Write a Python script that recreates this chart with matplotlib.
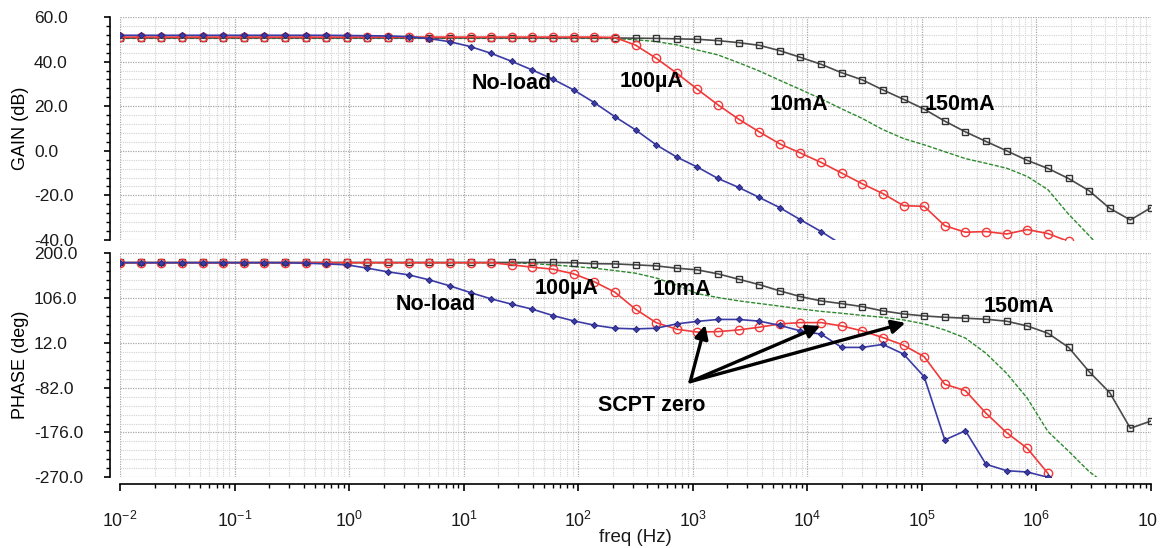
import numpy as np
import matplotlib
matplotlib.use("Agg")
import matplotlib.pyplot as plt
from matplotlib.patches import Rectangle
from matplotlib.ticker import MultipleLocator, FixedLocator, LogLocator, NullFormatter, FormatStrFormatter

plt.rcParams['font.family'] = ['Liberation Sans', 'DejaVu Sans']
plt.rcParams['mathtext.default'] = 'regular'

#===== data =================================#
# log10 of frequency at each plotted point (Hz)
logf = [-2.00, -1.82, -1.64, -1.46, -1.28, -1.10, -0.92, -0.74, -0.56, -0.38,
        -0.20, -0.02, 0.16, 0.34, 0.52, 0.70, 0.88, 1.06, 1.24, 1.42,
        1.60, 1.78, 1.96, 2.14, 2.32, 2.50, 2.68, 2.86, 3.04, 3.22,
        3.40, 3.58, 3.76, 3.94, 4.12, 4.30, 4.48, 4.66, 4.84, 5.02,
        5.20, 5.38, 5.56, 5.74, 5.92, 6.10, 6.28, 6.46, 6.64, 6.82, 7.00]

# gain (dB)
gain_noload = [51.8, 51.8, 51.8, 51.8, 51.8, 51.8, 51.8, 51.8, 51.8, 51.8,
               51.8, 51.7, 51.6, 51.5, 51.2, 50.3, 48.9, 46.7, 43.7, 40.1,
               36.2, 32.1, 27.3, 21.6, 15.3, 9.4, 2.7, -2.8, -7.3, -12.4,
               -16.4, -20.9, -25.5, -30.9, -36.2, -42.0]
gain_100uA = [51.0, 51.0, 51.0, 51.0, 51.0, 51.0, 51.0, 51.0, 51.0, 51.0,
              51.0, 51.0, 51.0, 51.0, 51.0, 51.0, 51.0, 51.0, 51.0, 51.0,
              51.0, 51.0, 51.0, 51.0, 50.8, 47.4, 41.5, 34.8, 27.6, 20.6,
              14.2, 8.5, 3.1, -1.0, -5.2, -10.0, -14.8, -19.2, -24.6, -24.9,
              -33.6, -36.5, -36.2, -37.3, -35.3, -37.1, -40.6]
gain_10mA = [50.4, 50.4, 50.4, 50.4, 50.4, 50.4, 50.4, 50.4, 50.4, 50.4,
             50.4, 50.4, 50.4, 50.4, 50.4, 50.4, 50.4, 50.4, 50.4, 50.4,
             50.4, 50.4, 50.4, 50.4, 50.3, 49.8, 49.0, 47.5, 45.2, 43.0,
             39.5, 35.8, 31.6, 27.5, 23.3, 18.8, 14.5, 9.5, 5.5, 2.7,
             -0.4, -3.5, -5.6, -7.8, -11.5, -17.4, -28.4, -38.0, -48.0]
gain_150mA = [50.6, 50.6, 50.6, 50.6, 50.6, 50.6, 50.6, 50.6, 50.6, 50.6,
              50.6, 50.6, 50.6, 50.6, 50.6, 50.6, 50.6, 50.6, 50.6, 50.6,
              50.6, 50.6, 50.6, 50.6, 50.6, 50.5, 50.4, 50.2, 50.0, 49.4,
              48.5, 47.3, 44.9, 41.9, 38.8, 35.0, 31.8, 27.3, 23.1, 18.7,
              13.3, 8.5, 4.2, 0.0, -4.3, -7.9, -12.4, -17.9, -25.8, -31.0, -25.5]

# phase (deg)
phase_noload = [180.0, 180.0, 180.0, 180.0, 180.0, 180.0, 180.0, 180.0, 180.0, 179.0,
                177.5, 175.5, 168.5, 160.8, 154.5, 144.0, 131.4, 117.3, 104.1, 93.0,
                82.5, 69.1, 58.0, 49.0, 42.6, 41.2, 42.6, 51.7, 57.0, 61.0,
                61.0, 57.5, 48.6, 37.0, 30.2, 2.4, 2.4, 8.7, -11.6, -59.1,
                -191.7, -172.2, -242.7, -256.1, -258.9, -270.0]
phase_100uA = [180.0, 180.0, 180.0, 180.0, 180.0, 180.0, 180.0, 180.0, 180.0, 180.0,
               180.0, 180.0, 180.0, 180.0, 180.0, 180.0, 180.0, 180.0, 180.0, 175.5,
               170.6, 166.4, 156.6, 140.0, 118.2, 82.5, 54.4, 40.5, 34.5, 35.5,
               39.1, 44.7, 51.7, 54.4, 54.4, 47.4, 37.0, 23.0, 7.0, -17.0,
               -74.9, -88.3, -135.7, -176.4, -209.2, -261.6]
phase_10mA = [180.0, 180.0, 180.0, 180.0, 180.0, 180.0, 180.0, 180.0, 180.0, 180.0,
              180.0, 180.0, 180.0, 180.0, 180.0, 180.0, 180.0, 180.0, 180.0, 180.0,
              178.0, 175.5, 172.0, 168.5, 163.5, 158.0, 148.0, 133.0, 115.0, 107.0,
              100.0, 94.5, 89.0, 83.0, 78.0, 74.0, 69.5, 65.5, 60.0, 51.7,
              39.0, 22.0, -10.0, -52.0, -104.0, -174.0, -215.0, -258.0, -290.0]
phase_150mA = [180.5, 180.5, 180.5, 180.5, 180.5, 180.5, 180.5, 180.5, 180.5, 180.5,
               180.5, 180.5, 180.5, 180.5, 180.5, 180.5, 180.5, 180.5, 180.5, 180.5,
               180.5, 180.5, 180.0, 178.0, 177.5, 175.5, 173.4, 168.5, 165.0, 156.6,
               145.4, 134.1, 120.9, 108.9, 99.9, 94.2, 87.9, 78.9, 72.6, 68.4,
               65.6, 63.6, 61.5, 57.3, 47.4, 32.1, 2.7, -48.4, -92.5, -167.2, -151.9]

decades = [-2, -1, 0, 1, 2, 3, 4, 5, 6, 7]

freq = 10 ** np.array(logf)

blue = '#3b3ba6'
red = '#f03a3a'
green = '#2f8a2f'
black = '#4a4a4a'

fig = plt.figure(figsize=(11.71, 5.48), dpi=100)
axg = fig.add_axes([0.1025, 0.562, 0.8804, 0.407])
axp = fig.add_axes([0.1025, 0.129, 0.8804, 0.409], sharex=axg)


def draw(ax, vals):
    nl, ua, ma10, ma150 = vals
    ax.plot(freq[:len(ma10)], ma10, color=green, lw=1.0, ls=(0, (3, 1.2)), zorder=3)
    ax.plot(freq[:len(ma150)], ma150, color=black, lw=1.2, marker='s', ms=4.2,
            mfc='none', mec='#333333', mew=1.0, zorder=4)
    ax.plot(freq[:len(ua)], ua, color=red, lw=1.2, marker='o', ms=6,
            mfc='none', mec=red, mew=1.0, zorder=5)
    ax.plot(freq[:len(nl)], nl, color=blue, lw=1.2, marker='D', ms=3.2,
            mfc=blue, mec='#22227a', mew=0.6, zorder=6)


draw(axg, (gain_noload, gain_100uA, gain_10mA, gain_150mA))
draw(axp, (phase_noload, phase_100uA, phase_10mA, phase_150mA))

axp.set_xscale('log')
axp.set_xlim(1e-2, 1e7)
axg.set_ylim(-40, 60)
axp.set_ylim(-270, 200)

axg.yaxis.set_major_locator(MultipleLocator(20))
axg.yaxis.set_minor_locator(MultipleLocator(4))
axp.yaxis.set_major_locator(FixedLocator([-270, -176, -82, 12, 106, 200]))
axp.yaxis.set_minor_locator(FixedLocator(list(np.arange(-270, 200.1, 18.8))))
for ax in (axg, axp):
    ax.yaxis.set_major_formatter(FormatStrFormatter('%.1f'))
    ax.xaxis.set_major_locator(FixedLocator([10.0 ** d for d in decades]))
    ax.xaxis.set_minor_locator(LogLocator(base=10, subs=np.arange(2, 10), numticks=200))
    ax.xaxis.set_minor_formatter(NullFormatter())
    ax.grid(True, which='major', color='#a8a8a8', lw=0.9, ls=(0, (1, 1)))
    ax.grid(True, which='minor', color='#d2d2d2', lw=0.8, ls=(0, (1, 1)))
    ax.set_axisbelow(True)
    for s in ('top', 'right'):
        ax.spines[s].set_visible(False)
    ax.spines['left'].set_position(('outward', 7))
    ax.spines['left'].set_linewidth(1.2)
    ax.tick_params(axis='y', which='major', length=4.5, width=1.2, pad=50.5,
                   labelsize=12.5, labelcolor='#1a1a1a')
    ax.tick_params(axis='y', which='minor', length=3, width=1.0)
    for lab in ax.get_yticklabels():
        lab.set_horizontalalignment('left')

axg.spines['bottom'].set_visible(False)
axg.tick_params(axis='x', which='both', bottom=False, labelbottom=False)
axp.spines['bottom'].set_position(('outward', 5))
axp.spines['bottom'].set_linewidth(1.2)
axp.tick_params(axis='x', which='major', length=5, width=1.2, pad=14, labelsize=12.8,
                labelcolor='#1a1a1a')
axp.tick_params(axis='x', which='minor', length=3, width=1.0)
axp.xaxis.set_major_formatter(plt.FuncFormatter(lambda v, p: '10$^{%d}$' % round(np.log10(v))))

axg.set_ylabel('GAIN (dB)', fontsize=13)
axp.set_ylabel('PHASE (deg)', fontsize=13)
axg.yaxis.set_label_coords(-0.088, 0.5)
axp.yaxis.set_label_coords(-0.088, 0.5)
fig.text(635 / 1171, 1 - 537 / 548, 'freq (Hz)', fontsize=13.5, ha='center', va='center',
         color='#1a1a1a')

lab_font = dict(fontsize=15.5, fontweight='bold', ha='center', va='center',
                family=['Liberation Sans', 'DejaVu Sans'], zorder=10)
axg.text(26.5, 30.0, 'No-load', **lab_font)
axg.text(435, 30.9, '100µA', **lab_font)
axg.text(8510, 20.6, '10mA', **lab_font)
axg.text(2.17e5, 20.6, '150mA', **lab_font)
axp.text(5.75, 91.5, 'No-load', **lab_font)
axp.text(78.5, 125.1, '100µA', **lab_font)
axp.text(809, 123.0, '10mA', **lab_font)
axp.text(7.1e5, 87.3, '150mA', **lab_font)
axp.text(435, -120.4, 'SCPT zero', **lab_font)

tail = (950, -69.4)
for head in [(1285, 49.6), (13000, 47.5), (71800, 53.8)]:
    axp.annotate('', xy=head, xytext=tail, zorder=11,
                 arrowprops=dict(arrowstyle='-|>', lw=2.4, color='black',
                                 mutation_scale=20, shrinkA=0, shrinkB=0))

# the original screenshot is cropped just right of the plot
fig.patches.append(Rectangle((1157 / 1171, 0), 14 / 1171, 1, transform=fig.transFigure,
                             facecolor='white', edgecolor='none', zorder=20))

plt.savefig('out.png', dpi=100)
